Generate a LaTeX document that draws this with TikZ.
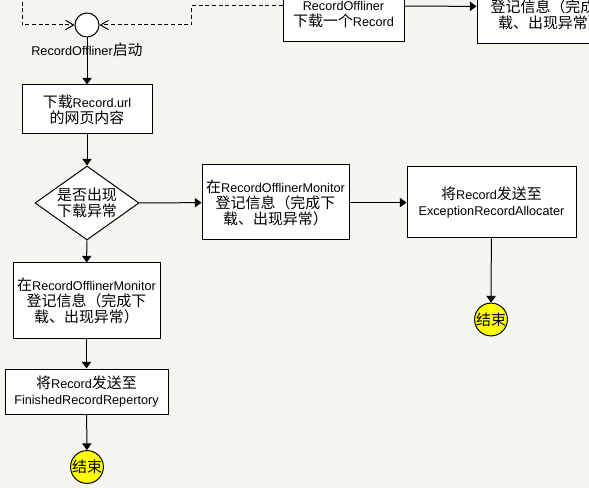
\documentclass[tikz,border=0pt]{standalone}
\usepackage{fontspec}
\usepackage{tikz}
\usetikzlibrary{shapes.geometric,arrows.meta}
\setmainfont{Liberation Sans}
\newfontfamily\cjk[Scale=1.18]{Noto Sans CJK SC}
\definecolor{bgcol}{RGB}{247,245,240}
\definecolor{endyellow}{RGB}{255,255,0}

\begin{document}
\begin{tikzpicture}[x=0.75pt,y=-0.75pt,
  font=\fontsize{9.5pt}{12pt}\selectfont,
  procbox/.style={draw,fill=white,line width=0.75pt,align=center,inner sep=1pt},
  decision/.style={draw,fill=white,line width=0.75pt,diamond,align=center,inner sep=0pt,
    shape aspect=1.4,minimum width=78pt,minimum height=55.5pt},
  startc/.style={draw,fill=white,circle,line width=0.75pt,minimum size=18pt,inner sep=0pt},
  endc/.style={draw,fill=endyellow,circle,line width=0.75pt,minimum size=23pt,inner sep=0pt},
  flow/.style={line width=0.75pt,-{Triangle[length=5pt,width=7pt]}},
  loopback/.style={line width=0.75pt,dash pattern=on 3pt off 2pt,
    -{Straight Barb[length=6pt,width=7pt]}}]
  \useasboundingbox[fill=bgcol] (0,0) rectangle (589,488);
  \clip (0,0) rectangle (589,488);

  % start and first step
  \node[startc] (st) at (87,25) {};
  \node (stl) at (87,50) {RecordOffliner{\cjk 启动}};
  \node[procbox,minimum width=97.5pt,minimum height=36.75pt] (dl) at (87,109.5)
    {{\cjk 下载}Record.url\\{\cjk 的网页内容}};

  % top row, cut off by the border
  \node[procbox,minimum width=90.75pt,minimum height=54pt] (tb) at (343.5,6)
    {\strut\\RecordOffliner\\{\cjk 下载一个}Record};
  \node[procbox,minimum width=110.25pt,minimum height=56.25pt] (tr) at (550.5,6.5)
    {\strut\\{\cjk 登记信息（完成下}\\{\cjk 载、出现异常）}};

  % decision and branches
  \node[decision] (ok) at (87,203) {{\cjk 是否出现}\\{\cjk 下载异常}};
  \node[procbox,minimum width=110.25pt,minimum height=56.25pt] (mm) at (275.5,202.5)
    {{\cjk 在}RecordOfflinerMonitor\\{\cjk 登记信息（完成下}\\{\cjk 载、出现异常）}};
  \node[procbox,minimum width=126.75pt,minimum height=53.25pt] (er) at (491.5,202.5)
    {{\cjk 将}Record{\cjk 发送至}\\ExceptionRecordAllocater};
  \node[procbox,minimum width=110.25pt,minimum height=56.25pt] (lm) at (86.5,300.5)
    {{\cjk 在}RecordOfflinerMonitor\\{\cjk 登记信息（完成下}\\{\cjk 载、出现异常）}};
  \node[procbox,minimum width=122.25pt,minimum height=33.75pt] (fr) at (86.5,391.5)
    {{\cjk 将}Record{\cjk 发送至}\\FinishedRecordRepertory};
  \node[endc] (e1) at (87,467) {\cjk 结束};
  \node[endc] (e2) at (491,319.5) {\cjk 结束};

  \draw[flow] (st) -- (dl);
  \draw[flow] (dl) -- (ok);
  \draw[flow] (ok) -- (mm);
  \draw[flow] (mm) -- (er);
  \draw[flow] (er) -- (e2);
  \draw[flow] (ok) -- (lm);
  \draw[flow] (lm) -- (fr);
  \draw[flow] (fr) -- (e1);
  \draw[flow] (tb) -- (tr);

  % dashed returns to the start
  \coordinate (loopL) at (22,-5);
  \draw[loopback] (loopL) |- (st.west);
  \draw[loopback] (tb.west) -- ++(-91,0) |- (st.east);
\end{tikzpicture}
\end{document}
